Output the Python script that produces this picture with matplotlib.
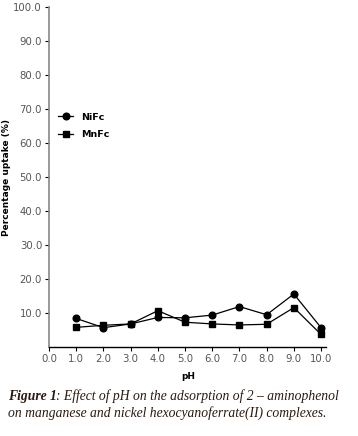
import matplotlib
matplotlib.use("Agg")
import matplotlib.pyplot as plt

ph = [1, 2, 3, 4, 5, 6, 7, 8, 9, 10]
nifc = [8.4, 5.7, 6.8, 8.7, 8.6, 9.4, 11.9, 9.5, 15.6, 5.7]
mnfc = [5.8, 6.4, 6.8, 10.7, 7.3, 6.8, 6.5, 6.7, 11.6, 3.7]
xticks = [0, 1, 2, 3, 4, 5, 6, 7, 8, 9, 10]
yticks = [10, 20, 30, 40, 50, 60, 70, 80, 90, 100]

GREY = "#555555"
CAP = "#2a1a10"

fig = plt.figure(figsize=(3.58, 4.36), dpi=100)
ax = fig.add_axes([0.137, 0.204, 0.775, 0.78])

ax.plot(ph, nifc, color="black", lw=0.9, marker="o", ms=4.8, label="NiFc")
ax.plot(ph, mnfc, color="black", lw=0.9, marker="s", ms=4.3, label="MnFc")

ax.set_xlim(0, 10.2)
ax.set_ylim(0, 100)
ax.set_xticks(xticks)
ax.set_xticklabels([f"{v:.1f}" for v in xticks])
ax.set_yticks(yticks)
ax.set_yticklabels([f"{v:.1f}" for v in yticks])
ax.tick_params(labelsize=7.3, labelcolor=GREY, length=3, width=0.8, pad=2)

for s in ("top", "right"):
    ax.spines[s].set_visible(False)
ax.spines["left"].set_color("#888888")
ax.spines["left"].set_linewidth(1.2)
ax.spines["bottom"].set_linewidth(1.0)

ax.set_xlabel("pH", fontsize=6.5, fontweight="bold", labelpad=6)
ax.set_ylabel("Percentage uptake (%)", fontsize=6.5, fontweight="bold", labelpad=2)

ax.legend(loc="upper left", bbox_to_anchor=(0.02, 0.70), frameon=False,
          handlelength=1.6, prop={"size": 6.8, "weight": "bold"},
          labelspacing=0.9, borderaxespad=0)

# caption: bold italic label, then italic text
fig.text(0.022, 0.083, "Figure 1", fontsize=9.8, family="Liberation Serif",
         style="italic", fontweight="bold", color=CAP)
fig.text(0.156, 0.083, ": Effect of pH on the adsorption of 2 \u2013 aminophenol",
         fontsize=9.8, family="Liberation Serif", style="italic", color=CAP)
fig.text(0.022, 0.045, "on manganese and nickel hexocyanoferrate(II) complexes.",
         fontsize=9.8, family="Liberation Serif", style="italic", color=CAP)

fig.savefig("out.png", dpi=100, facecolor="white")
